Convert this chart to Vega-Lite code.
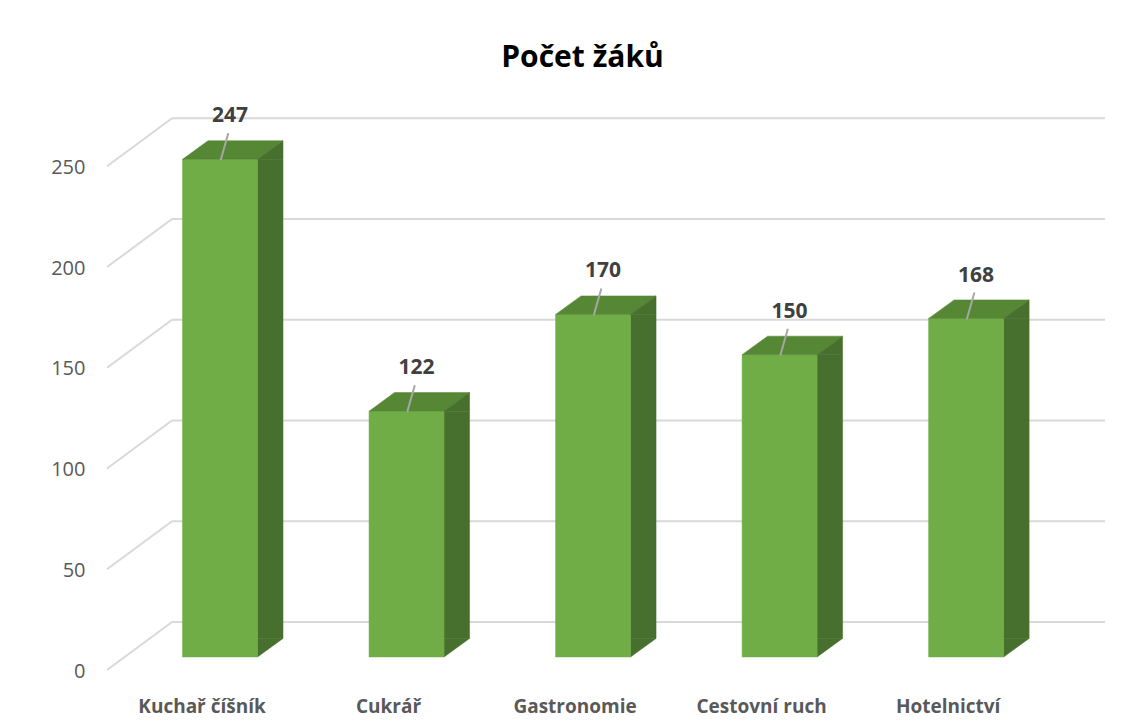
{
  "$schema": "https://vega.github.io/schema/vega-lite/v6.json",
  "width": 933,
  "height": 544,
  "autosize": {"type": "none"},
  "padding": {"left": 172, "top": 113, "right": 40, "bottom": 71},
  "background": "white",
  "config": {"view": {"stroke": null}, "font": "Open Sans"},
  "title": {"text": "Počet žáků", "fontSize": 30, "fontWeight": "bold", "color": "#000000", "anchor": "middle", "frame": "group", "dx": -56, "offset": 32, "font": "Open Sans"},
  "datasets": {
    "ticks": [{"v": 0}, {"v": 50}, {"v": 100}, {"v": 150}, {"v": 200}, {"v": 250}]
  },
  "data": {"values": [
    {"obor": "Kuchař číšník", "pocet": 247},
    {"obor": "Cukrář", "pocet": 122},
    {"obor": "Gastronomie", "pocet": 170},
    {"obor": "Cestovní ruch", "pocet": 150},
    {"obor": "Hotelnictví", "pocet": 168}
  ]},
  "layer": [
    {
      "data": {"name": "ticks"},
      "mark": {"type": "rule", "yOffset": -35, "stroke": "#D9D9D9", "strokeWidth": 2},
      "encoding": {
        "y": {"field": "v", "type": "quantitative", "scale": {"domain": [0, 270], "nice": false, "zero": true},
          "axis": {"values": [0, 50, 100, 150, 200, 250], "title": null, "grid": false, "domain": false, "ticks": false,
            "labelOffset": 14, "offset": 80, "labelPadding": 7, "labelFontSize": 20, "labelColor": "#595959", "labelFont": "Open Sans"}}
      }
    },
    {
      "data": {"name": "ticks"},
      "mark": {"type": "point", "shape": "M-1.13,0.13L-0.48,-0.35", "size": 40000, "filled": false, "opacity": 1, "stroke": "#D9D9D9", "strokeWidth": 2},
      "encoding": {
        "x": {"datum": "Kuchař číšník", "type": "nominal"},
        "y": {"field": "v", "type": "quantitative"}
      }
    },
    {
      "mark": {"type": "bar", "width": 25.5, "xOffset": 50.25, "y2Offset": -18.6, "fill": "#476F2D", "stroke": "#476F2D", "strokeWidth": 0.5},
      "encoding": {
        "x": {"field": "obor", "type": "nominal", "sort": null,
          "scale": {"type": "band", "paddingInner": 0.598, "paddingOuter": 0.3, "align": 0.094},
          "axis": {"title": null, "labelAngle": 0, "labelAlign": "center", "labelBaseline": "top", "domain": false, "ticks": false, "labelOffset": -18, "labelPadding": 40,
            "labelFontSize": 19, "labelFontWeight": "bold", "labelColor": "#595959", "labelFont": "Open Sans"}},
        "y": {"field": "pocet", "type": "quantitative"},
        "y2": {"datum": 0}
      }
    },
    {
      "mark": {"type": "point", "shape": "M0.375,0L0.375,-0.186L0.63,-0.186Z", "size": 40000, "filled": true, "opacity": 1, "fill": "#476F2D", "stroke": "#476F2D", "strokeWidth": 0.5},
      "encoding": {
        "x": {"field": "obor", "type": "nominal", "sort": null},
        "y": {"datum": 0, "type": "quantitative"}
      }
    },
    {
      "mark": {"type": "bar", "fill": "#70AD47", "stroke": "#70AD47", "strokeWidth": 0.5},
      "encoding": {
        "x": {"field": "obor", "type": "nominal", "sort": null},
        "y": {"field": "pocet", "type": "quantitative"}
      }
    },
    {
      "mark": {"type": "point", "shape": "M-0.375,0L0.375,0L0.63,-0.186L-0.12,-0.186Z", "size": 40000, "filled": true, "opacity": 1, "fill": "#568735", "stroke": "#568735", "strokeWidth": 0.5},
      "encoding": {
        "x": {"field": "obor", "type": "nominal", "sort": null},
        "y": {"field": "pocet", "type": "quantitative"}
      }
    },
    {
      "mark": {"type": "point", "shape": "M0.375,0L0.63,-0.186L0.63,0Z", "size": 40000, "filled": true, "opacity": 1, "fill": "#476F2D", "stroke": "#476F2D", "strokeWidth": 0.5},
      "encoding": {
        "x": {"field": "obor", "type": "nominal", "sort": null},
        "y": {"field": "pocet", "type": "quantitative"}
      }
    },
    {
      "mark": {"type": "point", "shape": "M0.007,0.007L0.083,-0.26", "size": 40000, "filled": false, "opacity": 1, "stroke": "#A6A6A6", "strokeWidth": 2},
      "encoding": {
        "x": {"field": "obor", "type": "nominal", "sort": null},
        "y": {"field": "pocet", "type": "quantitative"}
      }
    },
    {
      "mark": {"type": "text", "dx": 10, "dy": -43, "fontSize": 21, "fontWeight": "bold", "fill": "#404040", "baseline": "middle", "align": "center", "font": "Open Sans"},
      "encoding": {
        "x": {"field": "obor", "type": "nominal", "sort": null},
        "y": {"field": "pocet", "type": "quantitative"},
        "text": {"field": "pocet", "type": "quantitative"}
      }
    }
  ]
}
